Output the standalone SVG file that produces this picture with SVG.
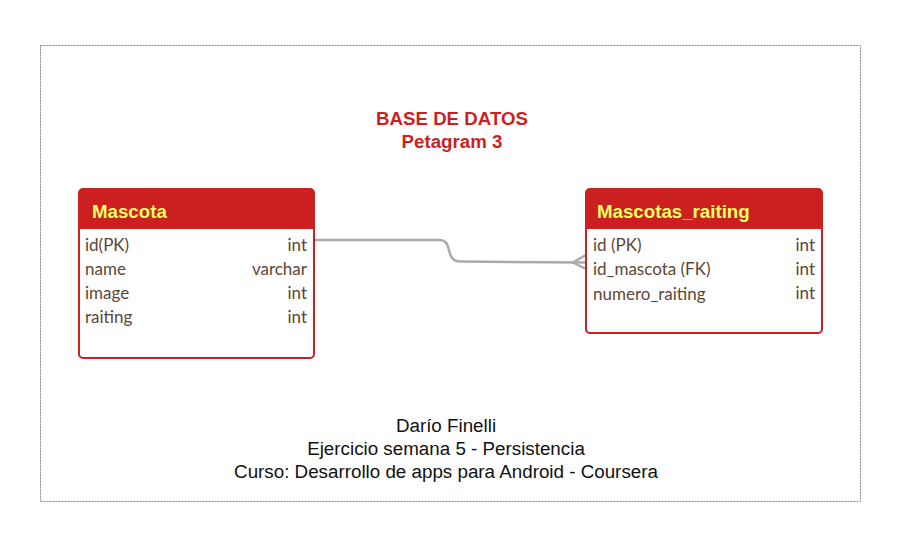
<svg xmlns="http://www.w3.org/2000/svg" width="900" height="548" viewBox="0 0 900 548">
<style>
.frame{fill:none;stroke:#888;stroke-width:1;stroke-dasharray:2,1}
.title{font-family:"Liberation Sans",Arial,sans-serif;font-weight:bold;font-size:18.7px;fill:#cc1f1f;text-anchor:middle}
.box{fill:#fff;stroke:#cc1f1f;stroke-width:2}
.hdr{fill:#cc1f1f}
.hname{font-family:"Liberation Sans",Arial,sans-serif;font-weight:bold;font-size:18.7px;fill:#ffff66}
.row{font-family:Lato,"Open Sans",sans-serif;font-size:17px;fill:#5b4636}
.r{text-anchor:end}
.foot{font-family:"Liberation Sans",Arial,sans-serif;font-size:18.8px;fill:#111;text-anchor:middle}
.conn{fill:none;stroke:#aaa;stroke-width:2.5}
</style>
<rect class="frame" x="40.5" y="45.5" width="820" height="456"/>
<text class="title" x="452" y="125">BASE DE DATOS</text>
<text class="title" x="452" y="148">Petagram 3</text>
<g id="connectors">
<path class="conn" d="M314 240 H440 Q447 240 449 250 Q451 261.5 460 261.5 L586 262.5"/>
<path class="conn" d="M586 255 L573 262.5 L586 269"/>
</g>
<g id="mascota">
<rect class="box" x="79" y="189" width="235" height="169" rx="4"/>
<path class="hdr" d="M79 193 Q79 189 83 189 H310 Q314 189 314 193 V229 H79 Z"/>
<text class="hname" x="92" y="218">Mascota</text>
<text class="row" x="85" y="251">id(PK)</text><text class="row r" x="307" y="251">int</text>
<text class="row" x="85" y="275">name</text><text class="row r" x="307" y="275">varchar</text>
<text class="row" x="85" y="299">image</text><text class="row r" x="307" y="299">int</text>
<text class="row" x="85" y="323">raiting</text><text class="row r" x="307" y="323">int</text>
</g>
<g id="mascotas_raiting">
<rect class="box" x="586" y="189" width="236" height="144" rx="4"/>
<path class="hdr" d="M586 193 Q586 189 590 189 H818 Q822 189 822 193 V229 H586 Z"/>
<text class="hname" x="597" y="218">Mascotas_raiting</text>
<text class="row" x="593" y="251">id (PK)</text><text class="row r" x="815" y="251">int</text>
<text class="row" x="593" y="275">id_mascota (FK)</text><text class="row r" x="815" y="275">int</text>
<text class="row" x="593" y="300">numero_raiting</text><text class="row r" x="815" y="299">int</text>
</g>
<text class="foot" x="446" y="432">Darío Finelli</text>
<text class="foot" x="446" y="455">Ejercicio semana 5 - Persistencia</text>
<text class="foot" x="446" y="478">Curso: Desarrollo de apps para Android - Coursera</text>
</svg>
